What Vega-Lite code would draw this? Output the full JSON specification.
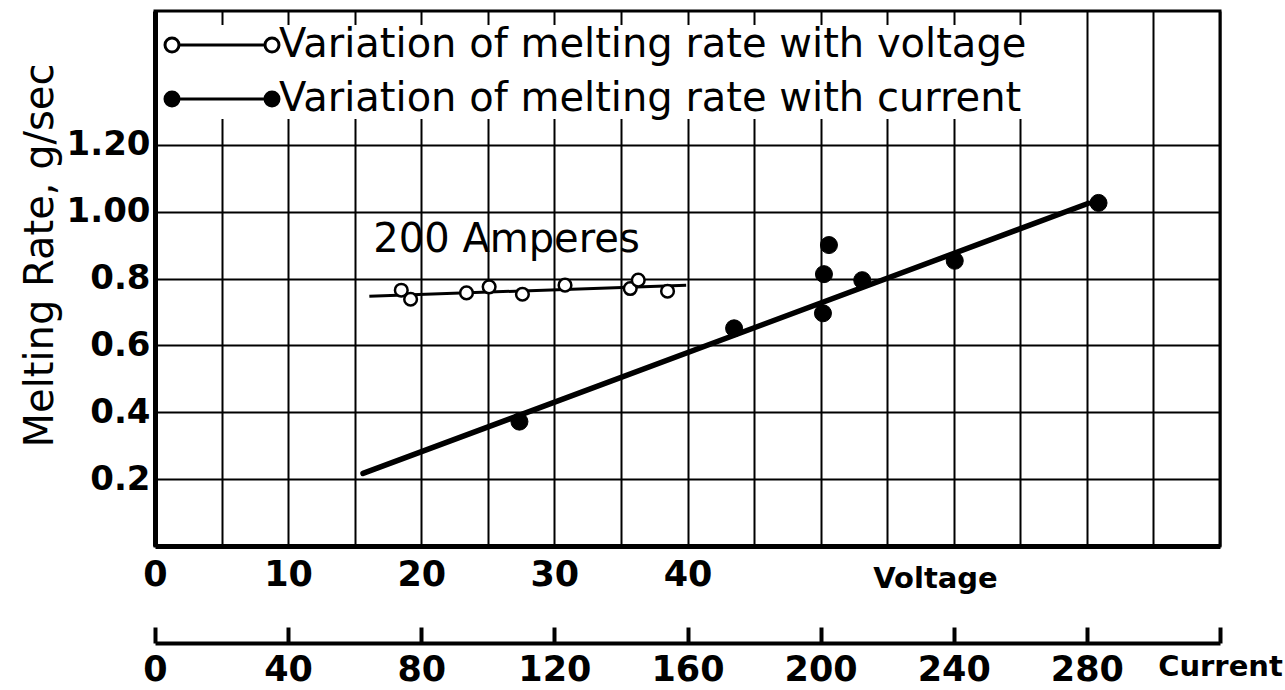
{
  "$schema": "https://vega.github.io/schema/vega-lite/v6.json",
  "width": 1065,
  "height": 535,
  "autosize": "none",
  "padding": {"left": 155, "top": 11, "right": 65, "bottom": 144},
  "background": "white",
  "config": {
    "font": "DejaVu Sans",
    "view": {"stroke": "black", "strokeWidth": 3},
    "axis": {
      "labelFont": "DejaVu Sans",
      "titleFont": "DejaVu Sans",
      "labelColor": "black",
      "titleColor": "black",
      "labelFontWeight": "bold",
      "titleFontWeight": "bold",
      "domainColor": "black",
      "tickColor": "black",
      "gridColor": "black",
      "gridOpacity": 1,
      "labelOverlap": false,
      "labelFlush": false
    }
  },
  "datasets": {
    "voltagePoints": [
      {"voltage": 18.5, "rate": 0.765},
      {"voltage": 19.2, "rate": 0.738},
      {"voltage": 23.4, "rate": 0.757},
      {"voltage": 25.1, "rate": 0.775},
      {"voltage": 27.6, "rate": 0.753},
      {"voltage": 30.8, "rate": 0.780},
      {"voltage": 35.7, "rate": 0.770},
      {"voltage": 36.3, "rate": 0.795},
      {"voltage": 38.5, "rate": 0.762}
    ],
    "voltageFit": [
      {"voltage": 16.1, "rate": 0.747},
      {"voltage": 39.9, "rate": 0.780}
    ],
    "currentPoints": [
      {"current": 109.5, "rate": 0.372},
      {"current": 174.0, "rate": 0.651},
      {"current": 200.7, "rate": 0.696},
      {"current": 201.0, "rate": 0.813},
      {"current": 202.5, "rate": 0.900},
      {"current": 212.5, "rate": 0.795},
      {"current": 240.3, "rate": 0.853},
      {"current": 283.5, "rate": 1.026}
    ],
    "currentFit": [
      {"current": 62.5, "rate": 0.217},
      {"current": 280.5, "rate": 1.025}
    ],
    "annotation": [
      {"voltage": 16.4, "rate": 0.879, "label": "200 Amperes"}
    ]
  },
  "encoding": {
    "y": {
      "field": "rate",
      "type": "quantitative",
      "scale": {"domain": [0, 1.6], "nice": false, "zero": false},
      "axis": {
        "values": [0.2, 0.4, 0.6, 0.8, 1.0, 1.2],
        "labelExpr": "datum.value >= 1 ? format(datum.value, '.2f') : format(datum.value, '.1f')",
        "labelFontSize": 34,
        "labelPadding": 5,
        "ticks": false,
        "domainWidth": 5,
        "grid": true,
        "gridWidth": 2,
        "title": "Melting Rate, g/sec",
        "titleFontSize": 40,
        "titleFontWeight": "normal",
        "titleAngle": 270,
        "titleX": -103,
        "titleY": 244,
        "titleAlign": "center",
        "titleBaseline": "alphabetic"
      }
    }
  },
  "layer": [
    {
      "layer": [
        {
          "data": {"name": "voltageFit"},
          "mark": {"type": "line", "stroke": "black", "strokeWidth": 3},
          "encoding": {
            "x": {
              "field": "voltage",
              "type": "quantitative",
              "scale": {"domain": [0, 80], "nice": false, "zero": false},
              "axis": {
                "orient": "bottom",
                "values": [0, 5, 10, 15, 20, 25, 30, 35, 40, 45, 50, 55, 60, 65, 70, 75, 80],
                "labelExpr": "datum.value <= 40 && datum.value % 10 == 0 ? datum.label : ''",
                "labelFontSize": 35,
                "labelPadding": 11,
                "ticks": false,
                "domainWidth": 5,
                "grid": true,
                "gridWidth": 2,
                "title": "Voltage",
                "titleFontSize": 29,
                "titleX": 780,
                "titleY": 41,
                "titleAlign": "center",
                "titleBaseline": "alphabetic"
              }
            }
          }
        },
        {
          "data": {"name": "voltagePoints"},
          "mark": {"type": "point", "shape": "circle", "filled": true, "stroke": "black", "strokeWidth": 2.5, "size": 160, "opacity": 1},
          "encoding": {
            "x": {"field": "voltage", "type": "quantitative"},
            "fill": {
              "datum": "Variation of melting rate with voltage",
              "type": "nominal",
              "scale": {"domain": ["Variation of melting rate with voltage", "Variation of melting rate with current"], "range": ["white", "black"]},
              "legend": {
                "title": null,
                "orient": "none",
                "legendX": 3,
                "legendY": 14,
                "direction": "vertical",
                "fillColor": "white",
                "padding": 0,
                "symbolType": "M -0.7 0 A 0.7 0.7 0 1 0 0.7 0 A 0.7 0.7 0 1 0 -0.7 0 Z M 0.7 0 L 9.3 0 M 9.3 0 A 0.7 0.7 0 1 0 10.7 0 A 0.7 0.7 0 1 0 9.3 0 Z",
                "symbolSize": 400,
                "symbolStrokeColor": "black",
                "symbolStrokeWidth": 3,
                "symbolOpacity": 1,
                "symbolOffset": -6,
                "labelOffset": 87,
                "labelFontSize": 40,
                "labelFont": "DejaVu Sans",
                "labelFontWeight": "normal",
                "labelColor": "black",
                "labelLimit": 2000,
                "rowPadding": 14
              }
            }
          }
        },
        {
          "data": {"name": "annotation"},
          "mark": {"type": "text", "align": "left", "baseline": "alphabetic", "fontSize": 40, "fontWeight": "normal", "font": "DejaVu Sans", "color": "black"},
          "encoding": {
            "x": {"field": "voltage", "type": "quantitative"},
            "text": {"field": "label"}
          }
        }
      ]
    },
    {
      "layer": [
        {
          "data": {"name": "currentFit"},
          "mark": {"type": "line", "stroke": "black", "strokeWidth": 5.5, "strokeCap": "round"},
          "encoding": {
            "x": {
              "field": "current",
              "type": "quantitative",
              "scale": {"domain": [0, 320], "nice": false, "zero": false},
              "axis": {
                "orient": "bottom",
                "offset": 97,
                "values": [0, 40, 80, 120, 160, 200, 240, 280, 320],
                "labelExpr": "datum.value == 320 ? '' : datum.label",
                "labelFontSize": 35,
                "labelPadding": 25,
                "labelBaseline": "top",
                "tickSize": -16,
                "tickWidth": 4,
                "domainWidth": 4,
                "grid": false,
                "title": "Current",
                "titleFontSize": 29,
                "titleX": 1065,
                "titleY": 32,
                "titleAlign": "center",
                "titleBaseline": "alphabetic"
              }
            }
          }
        },
        {
          "data": {"name": "currentPoints"},
          "mark": {"type": "point", "shape": "circle", "filled": true, "stroke": "black", "strokeWidth": 1, "size": 290, "opacity": 1},
          "encoding": {
            "x": {"field": "current", "type": "quantitative"},
            "fill": {
              "datum": "Variation of melting rate with current",
              "type": "nominal",
              "scale": {"domain": ["Variation of melting rate with voltage", "Variation of melting rate with current"], "range": ["white", "black"]},
              "legend": {
                "title": null,
                "orient": "none",
                "legendX": 3,
                "legendY": 14,
                "direction": "vertical",
                "fillColor": "white",
                "padding": 0,
                "symbolType": "M -0.7 0 A 0.7 0.7 0 1 0 0.7 0 A 0.7 0.7 0 1 0 -0.7 0 Z M 0.7 0 L 9.3 0 M 9.3 0 A 0.7 0.7 0 1 0 10.7 0 A 0.7 0.7 0 1 0 9.3 0 Z",
                "symbolSize": 400,
                "symbolStrokeColor": "black",
                "symbolStrokeWidth": 3,
                "symbolOpacity": 1,
                "symbolOffset": -6,
                "labelOffset": 87,
                "labelFontSize": 40,
                "labelFont": "DejaVu Sans",
                "labelFontWeight": "normal",
                "labelColor": "black",
                "labelLimit": 2000,
                "rowPadding": 14
              }
            }
          }
        }
      ]
    }
  ],
  "resolve": {"scale": {"x": "independent"}, "axis": {"x": "independent"}}
}
